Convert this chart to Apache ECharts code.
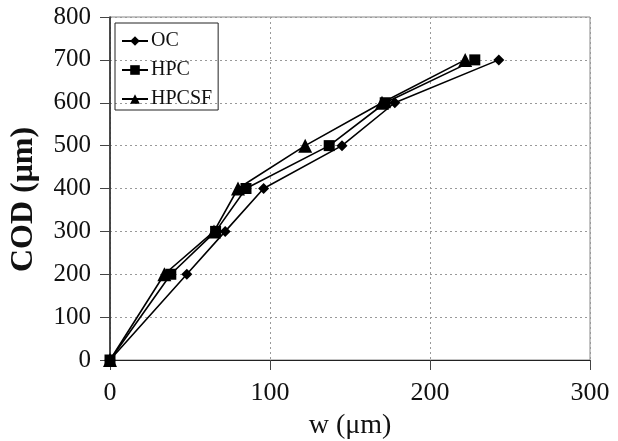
<!DOCTYPE html>
<html><head><meta charset="utf-8">
<script src="https://cdn.jsdelivr.net/npm/echarts@6/dist/echarts.min.js"></script>
<style>html,body{margin:0;padding:0;background:#fff}#c{width:618px;height:441px}</style>
</head><body><div id="c"></div>
<script>
const seriesNames = ['OC', 'HPC', 'HPCSF'];
const codValues = [0, 200, 300, 400, 500, 600, 700];
const wOC = [0, 48, 72, 96, 145, 178, 243];
const wHPC = [0, 38, 66, 85, 137, 172, 228];
const wHPCSF = [0, 34, 65, 80, 122, 170, 222];
const xTicks = [0, 100, 200, 300];
const yTicks = [0, 100, 200, 300, 400, 500, 600, 700, 800];

const symbols = ['diamond', 'rect', 'triangle'];
const symSizes = [11, 11, 14];
const wData = [wOC, wHPC, wHPCSF];
const font = 'Liberation Serif, Times New Roman, serif';

const chart = echarts.init(document.getElementById('c'));
chart.setOption({
  animation: false,
  backgroundColor: '#fff',
  grid: { left: 110, right: 28, top: 17, bottom: 81, show: true, borderColor: '#888', borderWidth: 1,
          containLabel: false, outerBoundsMode: 'none' },
  legend: {
    orient: 'vertical', left: 115, top: 23,
    padding: [8, 6, 1, 6], itemGap: 9, itemWidth: 26, itemHeight: 12,
    borderColor: '#222', borderWidth: 1,
    textStyle: { fontFamily: font, fontSize: 20, color: '#111', padding: [0, 0, 0, -2] },
    data: seriesNames
  },
  xAxis: {
    type: 'value', min: xTicks[0], max: xTicks[xTicks.length - 1], interval: 100,
    name: 'w (μm)', nameLocation: 'middle', nameGap: 52,
    nameTextStyle: { fontFamily: font, fontSize: 28, color: '#111' },
    axisLine: { show: true, onZero: false, lineStyle: { color: '#222', width: 1 } },
    axisTick: { show: true, length: 10, lineStyle: { color: '#444' } },
    axisLabel: { fontFamily: font, fontSize: 26, color: '#111', margin: 20 },
    splitLine: { show: true, lineStyle: { color: '#999', type: [2, 3], width: 1 } }
  },
  yAxis: {
    type: 'value', min: yTicks[0], max: yTicks[yTicks.length - 1], interval: 100,
    name: 'COD (μm)', nameLocation: 'middle', nameGap: 70, nameRotate: 90,
    nameTextStyle: { fontFamily: font, fontSize: 32, fontWeight: 'bold', color: '#111', padding: [0, 22, 0, 0] },
    axisLine: { show: true, onZero: false, lineStyle: { color: '#222', width: 1.5 } },
    axisTick: { show: true, length: 10, lineStyle: { color: '#444' } },
    axisLabel: { fontFamily: font, fontSize: 25, color: '#111', margin: 19 },
    splitLine: { show: true, lineStyle: { color: '#999', type: [2, 3], width: 1 } }
  },
  series: seriesNames.map((n, i) => ({
    name: n, type: 'line',
    data: wData[i].map((w, j) => [w, codValues[j]]),
    symbol: symbols[i], symbolSize: symSizes[i], showSymbol: true,
    itemStyle: { color: '#000' },
    lineStyle: { color: '#000', width: 1.6 },
    clip: false
  }))
});
</script></body></html>
